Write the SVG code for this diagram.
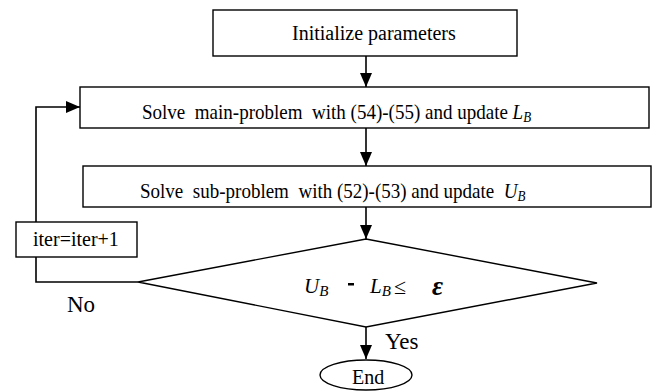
<svg xmlns="http://www.w3.org/2000/svg" width="658" height="391" viewBox="0 0 658 391">
<defs>
<marker id="ah" viewBox="0 0 14 12" refX="14" refY="6" markerWidth="14" markerHeight="12" markerUnits="userSpaceOnUse" orient="auto">
<path d="M0,0 L14,6 L0,12 Z" fill="#000"/>
</marker>
</defs>
<style>
.box{fill:#fff;stroke:#000;stroke-width:1.4}
.i{font-style:italic}
.c{fill:none;stroke:#000;stroke-width:1.6}
text{font-family:"Times New Roman","Liberation Serif",Tinos,"DejaVu Serif",serif}
</style>
<rect width="658" height="391" fill="#fff"/>
<g fill="#000">
<g id="connectors">
<line class="c" x1="366" y1="56" x2="366" y2="87" marker-end="url(#ah)"/>
<line class="c" x1="366" y1="128" x2="366" y2="166" marker-end="url(#ah)"/>
<line class="c" x1="366" y1="207" x2="366" y2="239" marker-end="url(#ah)"/>
<line class="c" x1="366" y1="327" x2="366" y2="359" marker-end="url(#ah)"/>
<polyline class="c" points="138,282 36,282 36,107 80,107" marker-end="url(#ah)"/>
<text font-size="23" x="67" y="312">No</text>
<text font-size="23" x="385" y="349">Yes</text>
</g>
<g id="init">
<rect class="box" x="213" y="10" width="304" height="46"/>
<text font-size="20" x="292" y="40">Initialize parameters</text>
</g>
<g id="main">
<rect class="box" x="80" y="87" width="569" height="41"/>
<text font-size="22" transform="translate(142,119) scale(0.865,1)" x="0" y="0" xml:space="preserve">Solve  main-problem  with (54)-(55) and update <tspan class="i">L</tspan><tspan class="i" font-size="15" dy="3">B</tspan></text>
</g>
<g id="sub">
<rect class="box" x="83" y="166" width="568" height="41"/>
<text font-size="22" transform="translate(140,198) scale(0.865,1)" x="0" y="0" xml:space="preserve">Solve  sub-problem  with (52)-(53) and update  <tspan class="i">U</tspan><tspan class="i" font-size="15" dy="3">B</tspan></text>
</g>
<g id="iter">
<rect class="box" x="16" y="222" width="121" height="35"/>
<text font-size="20" x="33" y="246">iter=iter+1</text>
</g>
<g id="decision">
<polygon class="box" points="366,239 597,283 366,327 138,282"/>
<text font-size="21" x="304" y="293"><tspan class="i">U</tspan><tspan class="i" font-size="15" dy="3">B</tspan></text>
<rect x="348" y="283" width="6" height="2.5" fill="#000"/>
<text font-size="21" x="370" y="293"><tspan class="i">L</tspan><tspan class="i" font-size="15" dy="3">B</tspan></text>
<text font-size="22" x="394" y="294">≤</text>
<text x="432" y="295" font-size="27" font-style="italic" font-weight="bold">ε</text>
</g>
<g id="end">
<ellipse class="box" cx="366" cy="375" rx="46" ry="15"/>
<text font-size="20" x="352" y="384">End</text>
</g>
</g>
</svg>
